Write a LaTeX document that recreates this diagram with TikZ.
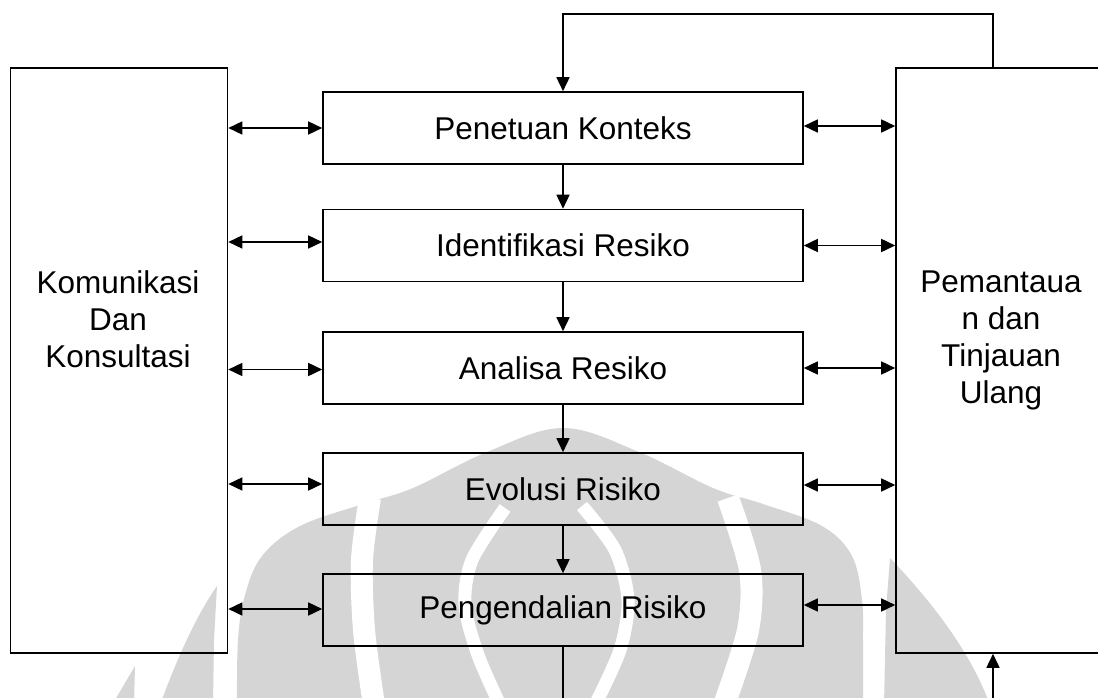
\documentclass[tikz,border=0pt]{standalone}
\usepackage{fontspec}
\setmainfont{Liberation Sans}
\usetikzlibrary{arrows.meta,calc}
\definecolor{wm}{RGB}{213,213,213}
\begin{document}
\begin{tikzpicture}[x=1pt,y=-1pt,
  box/.style={draw=black,line width=1.6pt,inner sep=0pt,minimum width=480pt,minimum height=72pt,font=\fontsize{31.5}{37}\selectfont},
  side/.style={draw=black,line width=1.6pt,inner sep=0pt},
  lbl/.style={inner sep=0pt,align=center,font=\fontsize{31.5}{37}\selectfont},
  flow/.style={line width=1.6pt,-{Triangle[length=14pt,width=13pt]}},
  dbl/.style={line width=1.6pt,{Triangle[length=14pt,width=13pt]}-{Triangle[length=14pt,width=13pt]}},
  ln/.style={line width=1.6pt},
  gapband/.style={draw=white,line cap=butt}
]
\useasboundingbox (0,0) rectangle (1098,698);
% watermark
\begin{scope}
\clip (0,0) rectangle (1098,698);
\fill[wm] plot[smooth,tension=0.6] coordinates {(237,705) (238,640) (245,595) (262,556) (300,526) (363,504) (413,488) (487,452) (563,428) (639,452) (713,488) (763,504) (822,526) (852,556) (862,600) (863,640) (863,705)} -- cycle;
\fill[wm] (160,705) .. controls (180,650) and (200,610) .. (217,586) -- (214,640) -- (213,705) -- cycle;
\fill[wm] (112,705) -- (135,666) -- (134,705) -- cycle;
\fill[wm] (884,705) -- (886,610) -- (890,558) .. controls (930,600) and (970,650) .. (990,705) -- cycle;
\draw[gapband,line width=22pt] plot[smooth] coordinates {(370,498) (362,560) (364,630) (374,705)};
\draw[gapband,line width=22pt] plot[smooth] coordinates {(728,498) (750,570) (748,630) (724,705)};
\draw[gapband,line width=13pt] plot[smooth] coordinates {(505,508) (472,560) (465,605) (478,655) (500,705)};
\draw[gapband,line width=13pt] plot[smooth] coordinates {(582,506) (615,550) (628,600) (620,650) (595,705)};
\end{scope}
% side boxes
\node[side,minimum width=217pt,minimum height=585pt] (kd) at (119,360.5) {};
\node[side,minimum width=212pt,minimum height=585pt] (pt) at (1002,360.5) {};
\node[lbl] (kdt) at (118,319) {Komunikasi\\Dan\\Konsultasi};
\node[lbl] (ptt) at (1001,340) {Pemantaua\\n dan\\Tinjauan\\Ulang};
% process boxes
\node[box] (pk) at (563,128) {Penetuan Konteks};
\node[box] (ir) at (563,245.5) {Identifikasi Resiko};
\node[box] (ar) at (563,368) {Analisa Resiko};
\node[box] (er) at (563,489) {Evolusi Risiko};
\node[box] (pr) at (563,610) {Pengendalian Risiko};
% vertical flow
\draw[flow] (pk.south) -- (ir.north);
\draw[flow] (ir.south) -- (ar.north);
\draw[flow] (ar.south) -- (er.north);
\draw[flow] (er.south) -- (pr.north);
\coordinate (fb) at (993,14);
\draw[flow] (pt.north -| fb) -- (fb) -| (pk.north);
\coordinate (b1) at (563,702);
\draw[ln] (pr.south) -- (b1);
\coordinate (b2) at (993,702);
\draw[flow] (b2) -- (pt.south -| b2);
% left arrows
\coordinate (l1) at (pk.west);
\coordinate (l2) at ($(ir.west)+(0,-3.5)$);
\coordinate (l3) at ($(ar.west)+(0,1.5)$);
\coordinate (l4) at ($(er.west)+(0,-5)$);
\coordinate (l5) at ($(pr.west)+(0,-1)$);
\foreach \c in {l1,l2,l3,l4,l5} \draw[dbl] (kd.east |- \c) -- (\c);
% right arrows
\coordinate (r1) at ($(pk.east)+(0,-2)$);
\coordinate (r2) at (ir.east);
\coordinate (r3) at (ar.east);
\coordinate (r4) at ($(er.east)+(0,-4)$);
\coordinate (r5) at ($(pr.east)+(0,-5)$);
\foreach \c in {r1,r2,r3,r4,r5} \draw[dbl] (\c) -- (pt.west |- \c);
\end{tikzpicture}
\end{document}
